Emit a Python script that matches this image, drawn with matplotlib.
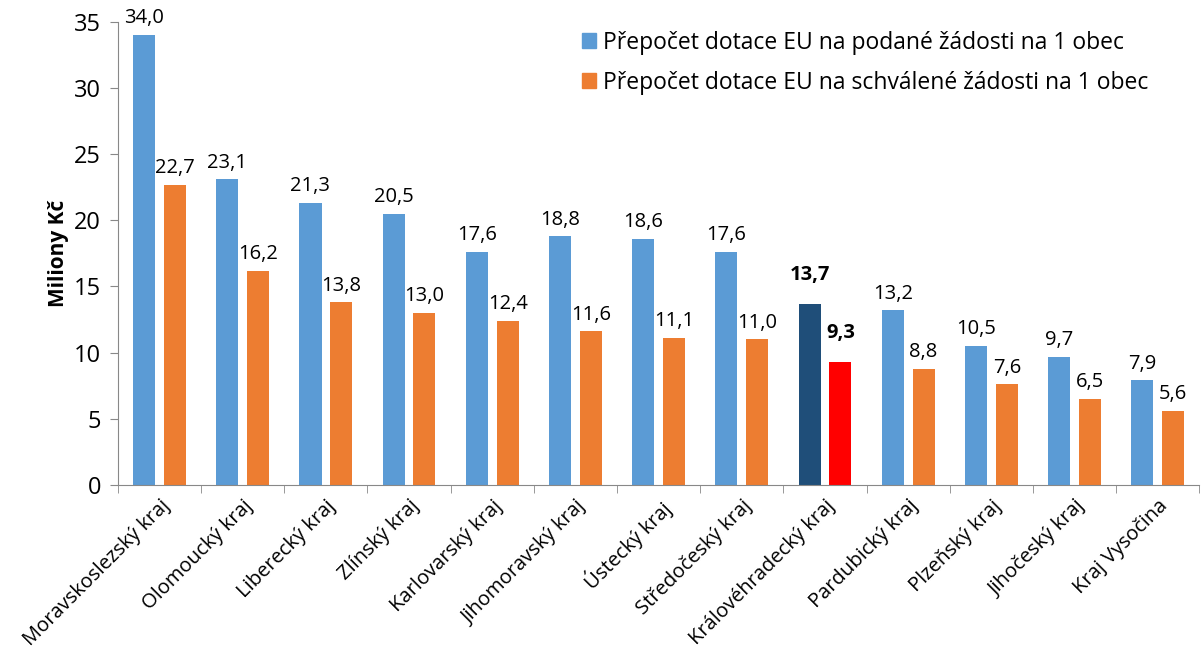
import numpy as np
import matplotlib
matplotlib.use('Agg')
from matplotlib import pyplot as plt
from matplotlib.patches import Patch

plt.rcParams['font.family'] = ['Open Sans', 'DejaVu Sans']

regions = ['Moravskoslezský kraj', 'Olomoucký kraj', 'Liberecký kraj', 'Zlínský kraj',
           'Karlovarský kraj', 'Jihomoravský kraj', 'Ústecký kraj', 'Středočeský kraj',
           'Královéhradecký kraj', 'Pardubický kraj', 'Plzeňský kraj', 'Jihočeský kraj',
           'Kraj Vysočina']
podane = [34.0, 23.1, 21.3, 20.5, 17.6, 18.8, 18.6, 17.6, 13.7, 13.2, 10.5, 9.7, 7.9]
schvalene = [22.7, 16.2, 13.8, 13.0, 12.4, 11.6, 11.1, 11.0, 9.3, 8.8, 7.6, 6.5, 5.6]
highlight = 'Královéhradecký kraj'

blue, orange = '#5B9BD5', '#ED7D31'
dark_blue, red = '#1F4E79', '#FF0000'

fig = plt.figure(figsize=(12.03, 6.59), dpi=100)
ax = fig.add_axes([0.098, 0.264, 0.899, 0.703])

x = np.arange(len(regions))
w = 0.265
off = 0.185
c1 = [dark_blue if r == highlight else blue for r in regions]
c2 = [red if r == highlight else orange for r in regions]
b1 = ax.bar(x - off, podane, w, color=c1)
b2 = ax.bar(x + off, schvalene, w, color=c2)

# value labels, highlighted region in bold and raised a bit
for bars, vals in ((b1, podane), (b2, schvalene)):
    for r, bar, v in zip(regions, bars, vals):
        bold = r == highlight
        ax.text(bar.get_x() + bar.get_width() / 2, v + 0.5 + (0.9 if bold else 0),
                f'{v:.1f}'.replace('.', ','), ha='center', va='bottom',
                fontsize=14.5, fontweight='bold' if bold else 'normal')

ax.set_xlim(-0.5, len(regions) - 0.5)
ax.set_ylim(0, 35)
ax.set_yticks(range(0, 36, 5))
ax.tick_params(axis='y', labelsize=17, color='#888888', length=6, pad=6)
ax.set_ylabel('Miliony Kč', fontsize=15, fontweight='bold', labelpad=4)

ax.set_xticks(x)
ax.set_xticklabels(regions, rotation=45, ha='right', rotation_mode='anchor', fontsize=14.5)
ax.tick_params(axis='x', which='major', length=0, pad=8)
ax.set_xticks(np.arange(-0.5, len(regions), 1), minor=True)
ax.tick_params(axis='x', which='minor', length=6, color='#888888')

for s in ('top', 'right'):
    ax.spines[s].set_visible(False)
for s in ('left', 'bottom'):
    ax.spines[s].set_color('#888888')

handles = [Patch(color=blue), Patch(color=orange)]
labels = ['Přepočet dotace EU na podané žádosti na 1 obec',
          'Přepočet dotace EU na schválené žádosti na 1 obec']
fig.legend(handles, labels, loc='upper left', bbox_to_anchor=(0.467, 0.985), frameon=False,
           fontsize=16.5, handlelength=0.6, handleheight=0.6, handletextpad=0.3,
           labelspacing=0.7)

fig.savefig('out.png', dpi=100)
